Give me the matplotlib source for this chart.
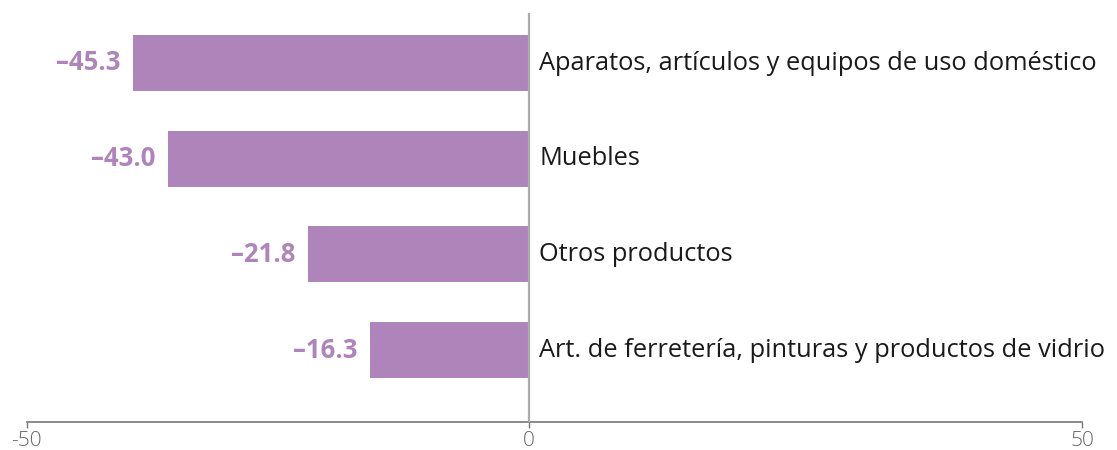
import numpy as np
import matplotlib
matplotlib.use("Agg")
import matplotlib.pyplot as plt

categories = [
    "Aparatos, artículos y equipos de uso doméstico",
    "Muebles",
    "Otros productos",
    "Art. de ferretería, pinturas y productos de vidrio",
]
values = [-39.4, -35.9, -22.0, -15.8]          # bar lengths as drawn
value_labels = ["–45.3", "–43.0", "–21.8", "–16.3"]  # printed labels
xticks = [-50, 0, 50]
xtick_labels = ["-50", "0", "50"]

BAR = "#AF84BA"
W, H = 1117, 450
fig = plt.figure(figsize=(W / 100, H / 100), dpi=100)

# piecewise-linear x scale: negative side 502 px / 50, positive side 553.6 px / 50
neg_px, pos_px = 502.0, 553.6
def fwd(x):
    x = np.asarray(x, dtype=float)
    return np.where(x < 0, x * neg_px / 50, x * pos_px / 50)
def inv(x):
    x = np.asarray(x, dtype=float)
    return np.where(x < 0, x * 50 / neg_px, x * 50 / pos_px)

left_px, right_px = 26.7, 1082.3
top_px, bottom_px = 13, 422
ax = fig.add_axes([left_px / W, 1 - bottom_px / H, (right_px - left_px) / W, (bottom_px - top_px) / H])
ax.set_xscale("function", functions=(fwd, inv))
ax.set_xlim(-50, 50)

y = np.arange(len(categories))
spacing_px = 95.7
first_px = 63
ax.set_ylim((bottom_px - first_px) / spacing_px, (top_px - first_px) / spacing_px)

ax.barh(y, values, height=0.585, color=BAR, zorder=2)
ax.axvline(0, color="#ababab", lw=1.6, zorder=3)

for yi, v, lab, cat in zip(y, values, value_labels, categories):
    ax.annotate(lab, (v, yi), xytext=(-9, 0), textcoords="offset points",
                ha="right", va="center", color=BAR, fontsize=18.5,
                fontweight="bold", family="Open Sans")
    ax.annotate(cat, (0, yi), xytext=(7.5, 0), textcoords="offset points",
                ha="left", va="center", color="#1a1a1a", fontsize=18.3,
                family="Open Sans", annotation_clip=False)

for s in ["top", "right", "left"]:
    ax.spines[s].set_visible(False)
ax.spines["bottom"].set_color("#777777")
ax.spines["bottom"].set_linewidth(1.2)
ax.set_yticks([])
ax.set_xticks(xticks)
ax.set_xticklabels(xtick_labels)
ax.tick_params(axis="x", direction="out", length=4.5, width=1.0, color="#777777",
               labelcolor="#666666", labelsize=15, pad=2)
for t in ax.get_xticklabels():
    t.set_family("Open Sans")
    t.set_fontweight("light")

fig.savefig("out.png", dpi=100)
